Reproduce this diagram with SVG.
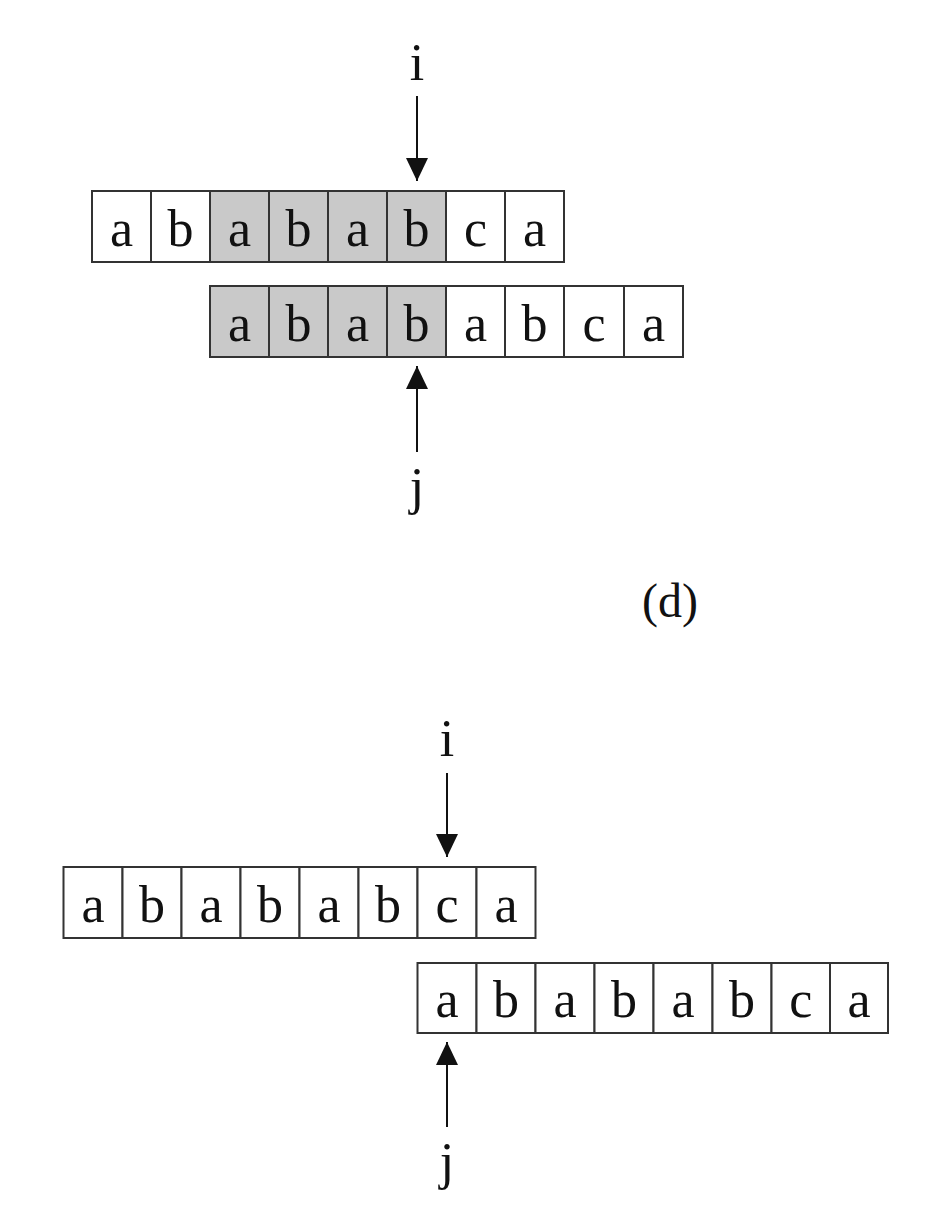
<svg xmlns="http://www.w3.org/2000/svg" width="948" height="1210" viewBox="0 0 948 1210">
<style>
.cell{fill:#ffffff;stroke:#333333;stroke-width:2}
.hl{fill:#c9c9c9}
.t{font-family:"Liberation Serif","Times New Roman",serif;font-size:52px;fill:#111111;text-anchor:middle}
.arr{stroke:#111111;stroke-width:2;fill:none}
</style>
<defs>
<marker id="ah" markerUnits="userSpaceOnUse" markerWidth="24" markerHeight="24" viewBox="0 0 24 22" refX="23" refY="11" orient="auto">
<path d="M0,0 L23,11 L0,22 Z" fill="#111111"/>
</marker>
</defs>
<rect width="948" height="1210" fill="#ffffff"/>

<!-- top figure, row 1 (text) -->
<g id="top-text">
<g id="t1-0"><rect class="cell" x="92" y="191" width="59" height="71"/><text class="t" x="121.5" y="246">a</text></g>
<g id="t1-1"><rect class="cell" x="151" y="191" width="59" height="71"/><text class="t" x="180.5" y="246">b</text></g>
<g id="t1-2"><rect class="cell hl" x="210" y="191" width="59" height="71"/><text class="t" x="239.5" y="246">a</text></g>
<g id="t1-3"><rect class="cell hl" x="269" y="191" width="59" height="71"/><text class="t" x="298.5" y="246">b</text></g>
<g id="t1-4"><rect class="cell hl" x="328" y="191" width="59" height="71"/><text class="t" x="357.5" y="246">a</text></g>
<g id="t1-5"><rect class="cell hl" x="387" y="191" width="59" height="71"/><text class="t" x="416.5" y="246">b</text></g>
<g id="t1-6"><rect class="cell" x="446" y="191" width="59" height="71"/><text class="t" x="475.5" y="246">c</text></g>
<g id="t1-7"><rect class="cell" x="505" y="191" width="59" height="71"/><text class="t" x="534.5" y="246">a</text></g>
</g>

<!-- top figure, row 2 (pattern) -->
<g id="top-pattern">
<g id="t2-0"><rect class="cell hl" x="210" y="286" width="59" height="71"/><text class="t" x="239.5" y="341">a</text></g>
<g id="t2-1"><rect class="cell hl" x="269" y="286" width="59" height="71"/><text class="t" x="298.5" y="341">b</text></g>
<g id="t2-2"><rect class="cell hl" x="328" y="286" width="59" height="71"/><text class="t" x="357.5" y="341">a</text></g>
<g id="t2-3"><rect class="cell hl" x="387" y="286" width="59" height="71"/><text class="t" x="416.5" y="341">b</text></g>
<g id="t2-4"><rect class="cell" x="446" y="286" width="59" height="71"/><text class="t" x="475.5" y="341">a</text></g>
<g id="t2-5"><rect class="cell" x="505" y="286" width="59" height="71"/><text class="t" x="534.5" y="341">b</text></g>
<g id="t2-6"><rect class="cell" x="564" y="286" width="60" height="71"/><text class="t" x="594" y="341">c</text></g>
<g id="t2-7"><rect class="cell" x="624" y="286" width="59" height="71"/><text class="t" x="653.5" y="341">a</text></g>
</g>

<g id="top-i"><text class="t" x="417" y="80">i</text></g>
<g id="top-j"><text class="t" x="417" y="504">j</text></g>
<g id="label-d"><text class="t" x="670" y="617" style="font-size:48px">(d)</text></g>

<!-- bottom figure, row 1 (text) -->
<g id="bottom-text">
<g id="b1-0"><rect class="cell" x="63.5" y="867" width="59" height="71"/><text class="t" x="93" y="922">a</text></g>
<g id="b1-1"><rect class="cell" x="122.5" y="867" width="59" height="71"/><text class="t" x="152" y="922">b</text></g>
<g id="b1-2"><rect class="cell" x="181.5" y="867" width="59" height="71"/><text class="t" x="211" y="922">a</text></g>
<g id="b1-3"><rect class="cell" x="240.5" y="867" width="59" height="71"/><text class="t" x="270" y="922">b</text></g>
<g id="b1-4"><rect class="cell" x="299.5" y="867" width="59" height="71"/><text class="t" x="329" y="922">a</text></g>
<g id="b1-5"><rect class="cell" x="358.5" y="867" width="59" height="71"/><text class="t" x="388" y="922">b</text></g>
<g id="b1-6"><rect class="cell" x="417.5" y="867" width="59" height="71"/><text class="t" x="447" y="922">c</text></g>
<g id="b1-7"><rect class="cell" x="476.5" y="867" width="59" height="71"/><text class="t" x="506" y="922">a</text></g>
</g>

<!-- bottom figure, row 2 (pattern) -->
<g id="bottom-pattern">
<g id="b2-0"><rect class="cell" x="417.5" y="963" width="59" height="70"/><text class="t" x="447" y="1017">a</text></g>
<g id="b2-1"><rect class="cell" x="476.5" y="963" width="59" height="70"/><text class="t" x="506" y="1017">b</text></g>
<g id="b2-2"><rect class="cell" x="535.5" y="963" width="59" height="70"/><text class="t" x="565" y="1017">a</text></g>
<g id="b2-3"><rect class="cell" x="594.5" y="963" width="59" height="70"/><text class="t" x="624" y="1017">b</text></g>
<g id="b2-4"><rect class="cell" x="653.5" y="963" width="59" height="70"/><text class="t" x="683" y="1017">a</text></g>
<g id="b2-5"><rect class="cell" x="712.5" y="963" width="59" height="70"/><text class="t" x="742" y="1017">b</text></g>
<g id="b2-6"><rect class="cell" x="771.5" y="963" width="58.5" height="70"/><text class="t" x="800.75" y="1017">c</text></g>
<g id="b2-7"><rect class="cell" x="830" y="963" width="58" height="70"/><text class="t" x="859" y="1017">a</text></g>
</g>

<g id="bottom-i"><text class="t" x="447" y="756">i</text></g>
<g id="bottom-j"><text class="t" x="447" y="1179">j</text></g>

<g id="connectors">
<line class="arr" x1="417" y1="96" x2="417" y2="181" marker-end="url(#ah)"/>
<line class="arr" x1="417" y1="452" x2="417" y2="366" marker-end="url(#ah)"/>
<line class="arr" x1="447" y1="773" x2="447" y2="857" marker-end="url(#ah)"/>
<line class="arr" x1="447" y1="1127" x2="447" y2="1042" marker-end="url(#ah)"/>
</g>
</svg>
